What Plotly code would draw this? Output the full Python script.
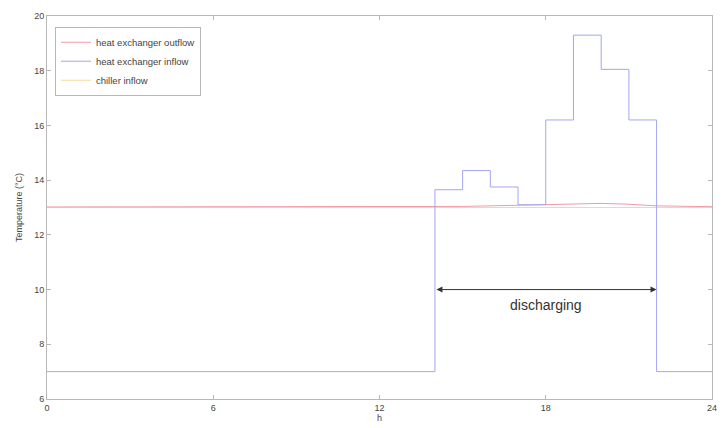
import plotly.graph_objects as go

# hour boundaries of the step profiles
hours = [0, 14, 15, 16, 17, 18, 19, 20, 21, 22, 24]
hx_inflow = [7.0, 13.65, 14.35, 13.75, 13.1, 16.2, 19.3, 18.05, 16.2, 7.0, 7.0]
hx_outflow = [13.02, 13.02, 13.04, 13.06, 13.08, 13.1, 13.14, 13.15, 13.12, 13.06, 13.03]
chiller_inflow = [13.0] * len(hours)

x_ticks = [0, 6, 12, 18, 24]
y_ticks = [6, 8, 10, 12, 14, 16, 18, 20]

fig = go.Figure()
fig.add_trace(go.Scatter(x=hours, y=chiller_inflow, mode="lines", name="chiller inflow",
                         line=dict(color="#f3dc9a", width=1.0), legendrank=3))
fig.add_trace(go.Scatter(x=hours, y=hx_outflow, mode="lines", name="heat exchanger outflow",
                         line=dict(color="#f29aa6", width=1.0), legendrank=1))
fig.add_trace(go.Scatter(x=hours, y=hx_inflow, mode="lines", name="heat exchanger inflow",
                         line=dict(color="#a3a5f0", width=1.0, shape="hv"), legendrank=2))

axis_common = dict(showline=True, linecolor="#b8b8b8", linewidth=1, mirror="ticks",
                   ticks="inside", ticklen=4, tickcolor="#b8b8b8", showgrid=False,
                   zeroline=False, tickfont=dict(size=9, color="#444"))

fig.update_xaxes(range=[0, 24], tickvals=x_ticks,
                 title=dict(text="h", font=dict(size=9, color="#444"), standoff=0),
                 **axis_common)
fig.update_yaxes(range=[6, 20], tickvals=y_ticks,
                 title=dict(text="Temperature (°C)", font=dict(size=9, color="#444"), standoff=10),
                 **axis_common)

fig.add_annotation(x=22, y=10, ax=14, ay=10, xref="x", yref="y", axref="x", ayref="y",
                   text="", showarrow=True, arrowhead=2, startarrowhead=2,
                   arrowside="end+start", arrowsize=1.2, arrowwidth=1, arrowcolor="#333")
fig.add_annotation(x=18, y=9.45, xref="x", yref="y", text="discharging", showarrow=False,
                   font=dict(size=14, color="#333"))

fig.update_layout(
    width=724, height=428,
    margin=dict(l=47, r=7, t=16, b=29),
    paper_bgcolor="white", plot_bgcolor="white",
    font=dict(family="Liberation Sans, Arial, sans-serif"),
    legend=dict(x=0.012, y=0.972, xanchor="left", yanchor="top",
                bgcolor="white", bordercolor="#b8b8b8", borderwidth=1,
                font=dict(size=9.5, color="#444"), tracegroupgap=0,
                itemwidth=30, traceorder="normal"),
    showlegend=True,
)

fig.write_html("out.html")
